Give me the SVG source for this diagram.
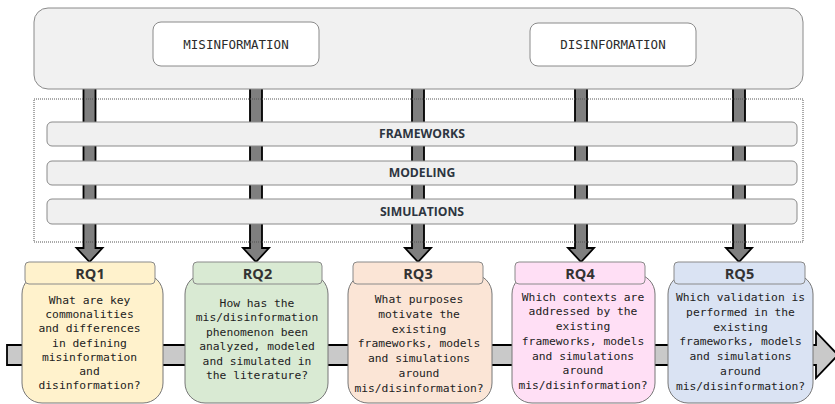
<svg xmlns="http://www.w3.org/2000/svg" width="835" height="404" viewBox="0 0 835 404">
<style>
.box{fill:#f1f1f1;stroke:#8a8a8a;stroke-width:1}
.tag{fill:#ffffff;stroke:#8a8a8a;stroke-width:1}
.bar{fill:#f0f0f0;stroke:#8a8a8a;stroke-width:1}
.mono{font-family:"DejaVu Sans Mono","Liberation Mono",monospace;fill:#2b2b2b;text-anchor:middle}
.lbl{font-family:"Open Sans","Liberation Sans",sans-serif;font-weight:bold;fill:#2d3540;text-anchor:middle}
.varr{fill:#7f7f7f;stroke:#000;stroke-width:1.8;stroke-linejoin:miter}
.harr{fill:#c9c9c9;stroke:#000;stroke-width:1.8}
.hdr{stroke:#8a8a8a;stroke-width:1}
.body{stroke:#777;stroke-width:1}
.q{font-family:"DejaVu Sans Mono","Liberation Mono",monospace;font-size:11.3px;fill:#222;text-anchor:middle}
.rq{font-family:"Open Sans","Liberation Sans",sans-serif;font-weight:bold;font-size:14.5px;fill:#333;text-anchor:middle}
</style>

<g id="connectors">
  <path class="harr" d="M7,345 L816,345 L816,332 L838,355 L816,378 L816,365 L7,365 Z"/>
  <path class="varr" d="M83.5,85 L95.5,85 L95.5,248 L102.5,248 L89.5,262 L76.5,248 L83.5,248 Z"/>
  <path class="varr" d="M250,85 L262,85 L262,248 L269,248 L256,262 L243,248 L250,248 Z"/>
  <path class="varr" d="M412,85 L424,85 L424,248 L431,248 L418,262 L405,248 L412,248 Z"/>
  <path class="varr" d="M575,85 L587,85 L587,248 L594,248 L581,262 L568,248 L575,248 Z"/>
  <path class="varr" d="M733,85 L745,85 L745,248 L752,248 L739,262 L726,248 L733,248 Z"/>
</g>

<g id="top">
  <rect class="box" x="34" y="8" width="769" height="81" rx="14"/>
</g>
<g id="misinformation">
  <rect class="tag" x="153" y="22" width="166" height="44" rx="8"/>
  <text class="mono" x="236" y="48.5" font-size="12.5">MISINFORMATION</text>
</g>
<g id="disinformation">
  <rect class="tag" x="530" y="23" width="166" height="43" rx="8"/>
  <text class="mono" x="613" y="48.5" font-size="12.5">DISINFORMATION</text>
</g>

<g id="layers">
  <rect x="34" y="99" width="769" height="143" fill="none" stroke="#555" stroke-width="1" stroke-dasharray="1,1"/>
</g>
<g id="frameworks">
  <rect class="bar" x="47" y="122" width="750" height="24" rx="5"/>
  <text class="lbl" x="422" y="138" font-size="12.2">FRAMEWORKS</text>
</g>
<g id="modeling">
  <rect class="bar" x="47" y="161" width="750" height="24" rx="5"/>
  <text class="lbl" x="422" y="177" font-size="12.2">MODELING</text>
</g>
<g id="simulations">
  <rect class="bar" x="47" y="199" width="750" height="25" rx="5"/>
  <text class="lbl" x="422" y="215.5" font-size="12.2">SIMULATIONS</text>
</g>

<g id="rq1">
  <rect class="body" x="22" y="274" width="141" height="129" rx="20" fill="#fff2cc"/>
  <rect class="hdr" x="25" y="262" width="130" height="22" rx="4" fill="#fff2cc"/>
  <text class="rq" x="90" y="278.5">RQ1</text>
  <text class="q" x="89.5" y="304">What are key</text>
  <text class="q" x="89.5" y="318.2">commonalities</text>
  <text class="q" x="89.5" y="332.4">and differences</text>
  <text class="q" x="89.5" y="346.6">in defining</text>
  <text class="q" x="89.5" y="360.8">misinformation</text>
  <text class="q" x="89.5" y="375">and</text>
  <text class="q" x="89.5" y="389.2">disinformation?</text>
</g>

<g id="rq2">
  <rect class="body" x="185" y="274" width="143" height="129" rx="20" fill="#d9ead3"/>
  <rect class="hdr" x="193" y="262" width="129" height="22" rx="4" fill="#d9ead3"/>
  <text class="rq" x="257.5" y="278.5">RQ2</text>
  <text class="q" x="257" y="306.7">How has the</text>
  <text class="q" x="257" y="321.2">mis/disinformation</text>
  <text class="q" x="257" y="335.7">phenomenon been</text>
  <text class="q" x="257" y="350.2">analyzed, modeled</text>
  <text class="q" x="257" y="364.7">and simulated in</text>
  <text class="q" x="257" y="379.2">the literature?</text>
</g>

<g id="rq3">
  <rect class="body" x="348" y="274" width="144" height="129" rx="20" fill="#fbe5d6"/>
  <rect class="hdr" x="353" y="262" width="130" height="22" rx="4" fill="#fbe5d6"/>
  <text class="rq" x="418" y="278.5">RQ3</text>
  <text class="q" x="419" y="303.3">What purposes</text>
  <text class="q" x="419" y="318">motivate the</text>
  <text class="q" x="419" y="332.7">existing</text>
  <text class="q" x="419" y="347.4">frameworks, models</text>
  <text class="q" x="419" y="362.1">and simulations</text>
  <text class="q" x="419" y="376.8">around</text>
  <text class="q" x="419" y="391.5">mis/disinformation?</text>
</g>

<g id="rq4">
  <rect class="body" x="512" y="274" width="143" height="129" rx="20" fill="#ffdff5"/>
  <rect class="hdr" x="515" y="262" width="130" height="22" rx="4" fill="#ffdff5"/>
  <text class="rq" x="580" y="278.5">RQ4</text>
  <text class="q" x="583" y="300.7">Which contexts are</text>
  <text class="q" x="583" y="315.4">addressed by the</text>
  <text class="q" x="583" y="330.1">existing</text>
  <text class="q" x="583" y="344.8">frameworks, models</text>
  <text class="q" x="583" y="359.5">and simulations</text>
  <text class="q" x="583" y="374.2">around</text>
  <text class="q" x="583" y="388.9">mis/disinformation?</text>
</g>

<g id="rq5">
  <rect class="body" x="668" y="274" width="145" height="129" rx="20" fill="#dae3f3"/>
  <rect class="hdr" x="674" y="262" width="131" height="22" rx="4" fill="#dae3f3"/>
  <text class="rq" x="739.5" y="278.5">RQ5</text>
  <text class="q" x="740.5" y="300.7">Which validation is</text>
  <text class="q" x="740.5" y="315.6">performed in the</text>
  <text class="q" x="740.5" y="330.5">existing</text>
  <text class="q" x="740.5" y="345.4">frameworks, models</text>
  <text class="q" x="740.5" y="360.3">and simulations</text>
  <text class="q" x="740.5" y="375.2">around</text>
  <text class="q" x="740.5" y="390.1">mis/disinformation?</text>
</g>
</svg>
